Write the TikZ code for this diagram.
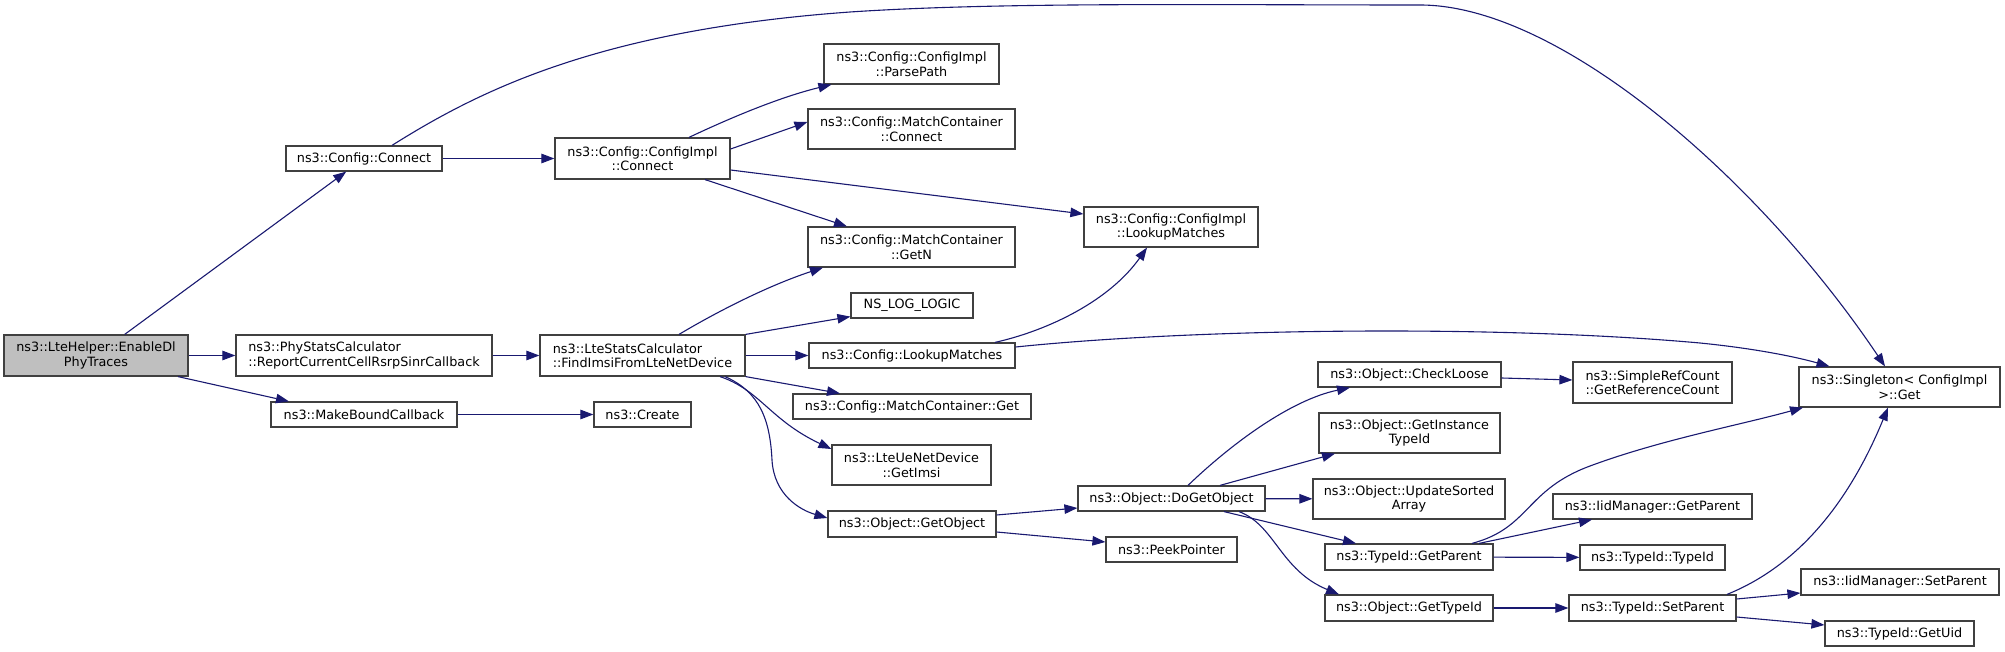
\documentclass[tikz,border=0pt]{standalone}
\usepackage{fontspec}
\setmainfont{DejaVu Sans}
\usetikzlibrary{arrows.meta}
\definecolor{edgeblue}{HTML}{191970}
\definecolor{boxline}{HTML}{404040}
\definecolor{rootfill}{HTML}{BFBFBF}

\begin{document}
\begin{tikzpicture} [x = 1pt, y = -1pt,
	fn/.style = {draw = boxline, line width = 1.2pt, fill = white, inner sep = 0pt, align = center, font = \fontsize{12.8}{14.5}\selectfont},
	dims/.style 2 args = {minimum width = #1pt, minimum height = #2pt},
	call/.style = {draw = edgeblue, line width = 1.1pt, -{Triangle[length = 13pt, width = 9.5pt]}}]
	\useasboundingbox (0,0) rectangle (2005,652);
	\node [fn, dims = {184}{41}, fill = rootfill] (enable) at (96,355.5) {ns3::LteHelper::EnableDl\\PhyTraces};
	\node [fn, dims = {156}{25}] (cfgconnect) at (364,158.5) {ns3::Config::Connect};
	\node [fn, dims = {256}{41}, align = left] (physts) at (364,355.5) {ns3::PhyStatsCalculator\\::ReportCurrentCellRsrpSinrCallback};
	\node [fn, dims = {186}{25}] (mkbound) at (364,414.5) {ns3::MakeBoundCallback};
	\node [fn, dims = {175}{41}] (implconnect) at (642.5,158.5) {ns3::Config::ConfigImpl\\::Connect};
	\node [fn, dims = {205}{41}, align = left] (ltestats) at (642.5,355.5) {ns3::LteStatsCalculator\\::FindImsiFromLteNetDevice};
	\node [fn, dims = {97}{25}] (create) at (642.5,414.5) {ns3::Create};
	\node [fn, dims = {175}{40}] (parsepath) at (911.5,64) {ns3::Config::ConfigImpl\\::ParsePath};
	\node [fn, dims = {207}{40}] (mcconnect) at (911.5,129) {ns3::Config::MatchContainer\\::Connect};
	\node [fn, dims = {207}{40}] (getn) at (911.5,247) {ns3::Config::MatchContainer\\::GetN};
	\node [fn, dims = {122}{25}] (nslog) at (912,305.5) {NS\_LOG\_LOGIC};
	\node [fn, dims = {206}{25}] (lookup) at (912,355.5) {ns3::Config::LookupMatches};
	\node [fn, dims = {238}{25}] (mcget) at (912,406.5) {ns3::Config::MatchContainer::Get};
	\node [fn, dims = {159}{40}] (getimsi) at (911.5,465) {ns3::LteUeNetDevice\\::GetImsi};
	\node [fn, dims = {168}{26}] (getobject) at (912,524) {ns3::Object::GetObject};
	\node [fn, dims = {174}{40}] (impllookup) at (1171,227) {ns3::Config::ConfigImpl\\::LookupMatches};
	\node [fn, dims = {187}{25}] (dogetobject) at (1171.5,498.5) {ns3::Object::DoGetObject};
	\node [fn, dims = {131}{25}] (peek) at (1171.5,549.5) {ns3::PeekPointer};
	\node [fn, dims = {183}{25}] (checkloose) at (1409.5,374.5) {ns3::Object::CheckLoose};
	\node [fn, dims = {181}{40}] (instance) at (1409.5,433) {ns3::Object::GetInstance\\TypeId};
	\node [fn, dims = {192}{40}] (updsorted) at (1409,499) {ns3::Object::UpdateSorted\\Array};
	\node [fn, dims = {168}{26}] (tgetparent) at (1409,557) {ns3::TypeId::GetParent};
	\node [fn, dims = {168}{26}] (ogettypeid) at (1409,608) {ns3::Object::GetTypeId};
	\node [fn, dims = {159}{41}] (simpleref) at (1652.5,382.5) {ns3::SimpleRefCount\\::GetReferenceCount};
	\node [fn, dims = {199}{25}] (iidgetparent) at (1652.5,506.5) {ns3::IidManager::GetParent};
	\node [fn, dims = {145}{25}] (typeidtypeid) at (1652.5,557.5) {ns3::TypeId::TypeId};
	\node [fn, dims = {167}{26}] (setparent) at (1652.5,608) {ns3::TypeId::SetParent};
	\node [fn, dims = {201}{40}] (singleton) at (1899.5,387) {ns3::Singleton< ConfigImpl\\>::Get};
	\node [fn, dims = {198}{26}] (iidsetparent) at (1900,582) {ns3::IidManager::SetParent};
	\node [fn, dims = {149}{25}] (getuid) at (1899.5,633.5) {ns3::TypeId::GetUid};

	\draw [call] (enable) -- (cfgconnect);
	\draw [call] (enable) -- (physts);
	\draw [call] ([xshift = 82pt]enable.south) -- ([xshift = -75pt]mkbound.north);
	\draw [call] (cfgconnect) -- (implconnect);
	\draw [call] ([xshift = 28pt]cfgconnect.north) .. controls (480,90) and (600,30) .. (850,12) .. controls (1000,2) and (1200,5) .. (1420,5) .. controls (1560,5) and (1760,180) .. ([xshift = -14.5pt]singleton.north);
	\draw [call] ([xshift = 46.5pt]implconnect.north) .. controls (730,118) and (780,97) .. ([xshift = 8pt]parsepath.south west);
	\draw [call] ([yshift = 9.5pt]implconnect.east) -- ([yshift = 7pt]mcconnect.west);
	\draw [call] ([yshift = -11.5pt]implconnect.east) -- ([yshift = 13pt]impllookup.west);
	\draw [call] ([xshift = 62.5pt]implconnect.south) -- ([xshift = -64.5pt]getn.north);
	\draw [call] (physts) -- (ltestats);
	\draw [call] (mkbound) -- (create);
	\draw [call] ([xshift = 36.5pt]ltestats.north) .. controls (720,310) and (770,285) .. ([xshift = -88.5pt]getn.south);
	\draw [call] (ltestats.north east) -- ([yshift = 2pt]nslog.south west);
	\draw [call] (ltestats) -- (lookup);
	\draw [call] (ltestats.south east) -- ([xshift = -72pt]mcget.north);
	\draw [call] ([xshift = 77.5pt]ltestats.south) .. controls (760,390) and (770,420) .. ([yshift = 16pt]getimsi.west);
	\draw [call] ([xshift = 82.5pt]ltestats.south) .. controls (760,392) and (770,420) .. (772,460) .. controls (774,495) and (800,510) .. ([yshift = 6pt]getobject.west);
	\draw [call] ([xshift = 83pt]lookup.north) .. controls (1050,330) and (1110,300) .. ([xshift = -24pt]impllookup.south);
	\draw [call] ([yshift = 8.5pt]lookup.east) .. controls (1200,328) and (1500,325) .. (1700,343) .. controls (1760,349) and (1800,358) .. ([xshift = -70pt]singleton.north);
	\draw [call] ([yshift = 9pt]getobject.east) -- ([yshift = -9.5pt]dogetobject.west);
	\draw [call] ([yshift = -8pt]getobject.east) -- ([yshift = 7.5pt]peek.west);
	\draw [call] ([xshift = 16.5pt]dogetobject.north) .. controls (1230,445) and (1290,400) .. ([xshift = -59.5pt]checkloose.south);
	\draw [call] ([xshift = 48.5pt]dogetobject.north) -- ([xshift = -74.5pt]instance.south);
	\draw [call] (dogetobject) -- (updsorted);
	\draw [call] ([xshift = 52.5pt]dogetobject.south) -- ([xshift = -53pt]tgetparent.north);
	\draw [call] ([xshift = 67.5pt]dogetobject.south) .. controls (1275,525) and (1280,570) .. ([xshift = -70pt]ogettypeid.north);
	\draw [call] ([yshift = -3.5pt]checkloose.east) -- ([yshift = 2.5pt]simpleref.west);
	\draw [call] ([xshift = 63pt]tgetparent.north) .. controls (1530,528) and (1525,490) .. (1590,466) .. controls (1660,440) and (1740,425) .. ([xshift = -96.5pt]singleton.south);
	\draw [call] ([xshift = 70pt]tgetparent.north) -- ([xshift = -60.5pt]iidgetparent.south);
	\draw [call] (tgetparent) -- (typeidtypeid);
	\draw [call] (ogettypeid) -- (setparent);
	\draw [call] ([xshift = 74.5pt]setparent.north) .. controls (1800,565) and (1850,500) .. ([xshift = -11.5pt]singleton.south);
	\draw [call] ([yshift = 9pt]setparent.east) -- ([yshift = -11pt]iidsetparent.west);
	\draw [call] ([yshift = -9pt]setparent.east) -- ([yshift = 8.5pt]getuid.west);
\end{tikzpicture}
\end{document}
